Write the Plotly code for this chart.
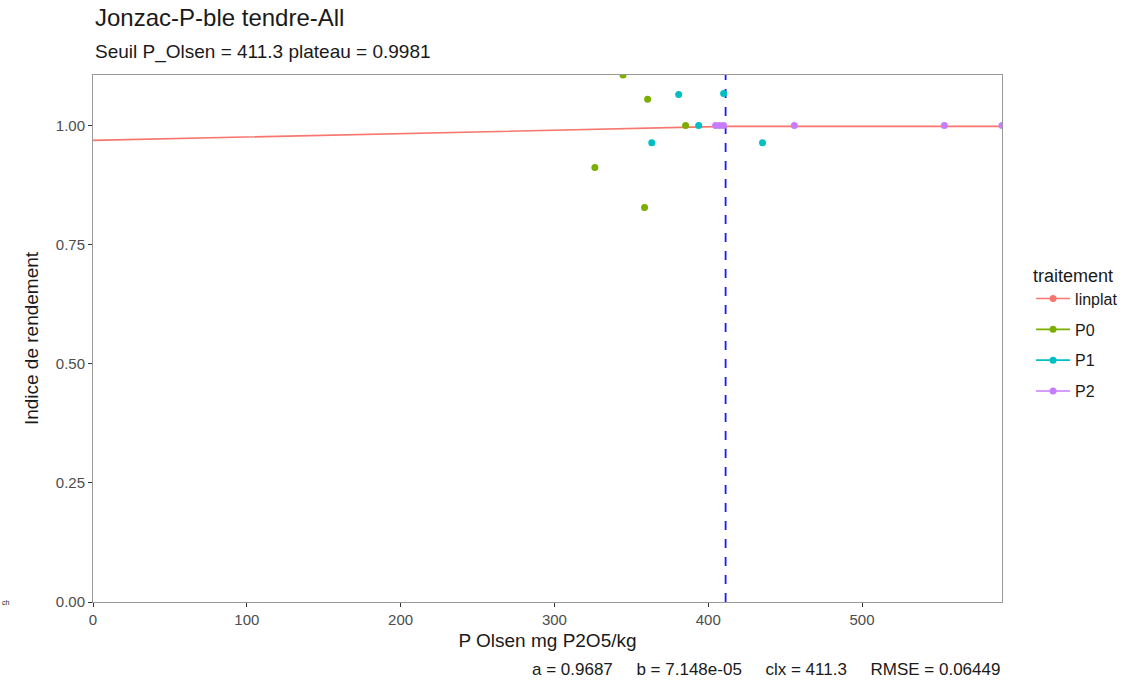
import plotly.graph_objects as go

# Data
p0_x = [344.6, 360.6, 385.3, 326.3, 358.6]
p0_y = [1.106, 1.055, 1.000, 0.912, 0.828]
p1_x = [380.8, 410.0, 393.8, 363.3, 435.3]
p1_y = [1.065, 1.067, 1.000, 0.964, 0.964]
p2_x = [404.8, 407.4, 410.0, 456.0, 553.5, 591.0]
p2_y = [1.000, 1.000, 1.000, 1.000, 1.000, 1.000]
a, b, clx = 0.9687, 7.148e-05, 411.3
plateau = 0.9981
rmse = 0.06449
line_x = [0, clx, 591.0]
line_y = [a, a + b * clx, plateau]
x_ticks = [0, 100, 200, 300, 400, 500]
y_ticks = [0, 0.25, 0.5, 0.75, 1.0]

colors = {"linplat": "#F8766D", "P0": "#7CAE00", "P1": "#00BFC4", "P2": "#C77CFF"}
FONT = "Liberation Sans, Arial, sans-serif"

fig = go.Figure()
fig.add_trace(go.Scatter(x=line_x, y=line_y, mode="lines",
                         line=dict(color=colors["linplat"], width=1.6), showlegend=False))
for name, xs, ys in [("P0", p0_x, p0_y), ("P1", p1_x, p1_y), ("P2", p2_x, p2_y)]:
    fig.add_trace(go.Scatter(x=xs, y=ys, mode="markers",
                             marker=dict(color=colors[name], size=7), showlegend=False))
fig.add_shape(type="line", x0=clx, x1=clx, y0=0, y1=1, yref="paper", layer="below",
              line=dict(color="#1a1aff", width=1.8, dash="dash"))
for name in ["linplat", "P0", "P1", "P2"]:
    fig.add_trace(go.Scatter(x=[None], y=[None], mode="lines+markers", name=name,
                             legendgroup=name,
                             line=dict(color=colors[name], width=1.6),
                             marker=dict(color=colors[name], size=7)))

fig.update_layout(
    width=1145, height=683,
    margin=dict(l=93, r=143, t=75, b=81),
    plot_bgcolor="white", paper_bgcolor="white",
    font=dict(family=FONT, color="#1a1a1a"),
    legend=dict(title=dict(text="traitement", font=dict(size=18, color="#1a1a1a")),
                font=dict(size=16, color="#1a1a1a"),
                x=1.032, xanchor="left", y=0.51, yanchor="middle",
                tracegroupgap=7, itemwidth=34),
    xaxis=dict(range=[0, 591.0], tickvals=x_ticks, showgrid=False, zeroline=False,
               showline=True, mirror=True, linecolor="#999999", linewidth=1,
               ticks="outside", ticklen=4, tickcolor="#333333",
               tickfont=dict(size=15, color="#4d4d4d"),
               title=dict(text="P Olsen mg P2O5/kg", font=dict(size=19, color="#1a1a1a"), standoff=6)),
    yaxis=dict(range=[0, 1.106], tickvals=y_ticks, tickformat=".2f", showgrid=False, zeroline=False,
               showline=True, mirror=True, linecolor="#999999", linewidth=1,
               ticks="outside", ticklen=4, tickcolor="#333333",
               tickfont=dict(size=15, color="#4d4d4d"),
               title=dict(text="Indice de rendement", font=dict(size=19, color="#1a1a1a"), standoff=12)),
)
sp = "\u00a0" * 5
fig.add_annotation(text="Jonzac-P-ble tendre-All", xref="paper", yref="paper", x=0, y=1,
                   xanchor="left", yanchor="bottom", yshift=42, showarrow=False,
                   font=dict(size=24, color="#1a1a1a"))
fig.add_annotation(text="Seuil P_Olsen = 411.3 plateau = 0.9981", xref="paper", yref="paper", x=0, y=1,
                   xanchor="left", yanchor="bottom", yshift=10, showarrow=False,
                   font=dict(size=19, color="#1a1a1a"))
fig.add_annotation(text=f"a = {a}{sp}b = 7.148e-05{sp}clx = {clx}{sp}RMSE = {rmse}",
                   xref="paper", yref="paper", x=1, y=0, xanchor="right", yanchor="top",
                   yshift=-56, showarrow=False, font=dict(size=17, color="#1a1a1a"))
fig.add_annotation(text="ch", xref="paper", yref="paper", x=-0.102, y=0.0, xanchor="left",
                   yanchor="middle", showarrow=False, font=dict(size=7, color="#1a1a1a"))

fig.write_html("out.html")
